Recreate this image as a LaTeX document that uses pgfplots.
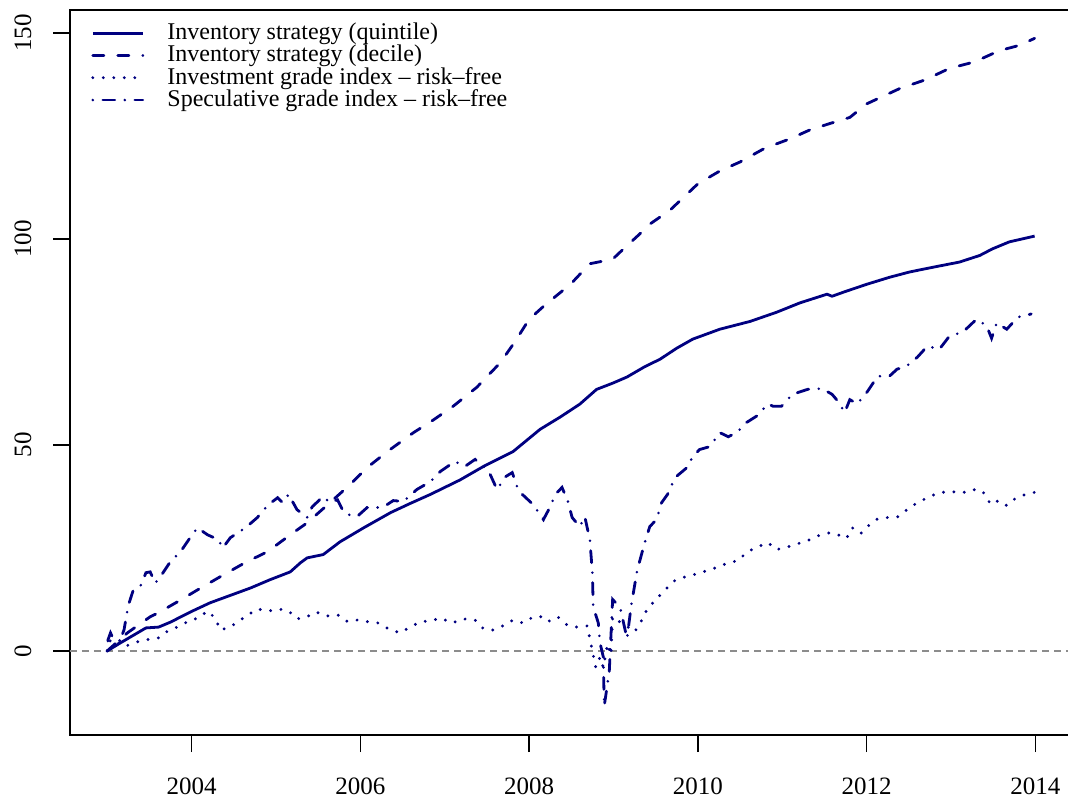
\documentclass[border=0pt]{standalone}
\usepackage{fontspec}
\setmainfont{Liberation Serif}
\usepackage{pgfplots}
\pgfplotsset{compat=1.18}
\definecolor{navy}{RGB}{0,0,128}
\begin{document}
\begin{tikzpicture}
\useasboundingbox (-70bp,-64bp) rectangle (998bp,735bp);
\begin{axis}[
 at={(0,0)}, anchor=south west,
 scale only axis, width=1002.6bp, height=725bp,
 xmin=2002.56, xmax=2014.44, ymin=-20.39, ymax=155.58,
 xtick={2004,2006,2008,2010,2012,2014},
 xticklabels={2004,2006,2008,2010,2012,2014},
 ytick={0,50,100,150},
 tick align=outside, xtick pos=bottom, ytick pos=left,
 major tick length=17bp,
 tick style={black, line width=1.3bp},
 axis line style={line width=1.5bp},
 ticklabel style={font=\fontsize{25bp}{30bp}\selectfont, inner sep=0pt},
 /pgf/number format/assume math mode=true,
 xticklabel style={anchor=center, yshift=-34bp},
 yticklabel style={xshift=-30bp, rotate=90, anchor=center},
 legend style={draw=none, fill=none, at={(0.021,1)}, anchor=north west,
   yshift=-13.3bp, inner sep=0pt, row sep=0pt, column sep=0pt,
   font=\fontsize{24bp}{22bp}\selectfont,
   nodes={inner sep=0pt, text height=16bp, text depth=6.3bp}},
 legend cell align=left,
 legend image code/.code={\draw[#1] (0bp,1.5bp) -- (50bp,1.5bp); \path (73bp,1.5bp);},
]
\addplot[black!45, line width=1.3bp, dash pattern=on 7bp off 5bp, forget plot] coordinates {(2002.56,0) (2014.44,0)};

\addplot[navy, line width=2.8bp, line join=round] table {
x y
2003.00 0
2003.16 2
2003.46 5.6
2003.61 5.8
2003.75 7
2003.99 9.5
2004.22 11.7
2004.46 13.5
2004.70 15.3
2004.93 17.3
2005.17 19.2
2005.29 21.4
2005.37 22.6
2005.56 23.4
2005.76 26.5
2006.04 29.9
2006.36 33.6
2006.59 35.8
2006.83 38
2007.18 41.5
2007.46 44.8
2007.81 48.4
2008.13 53.8
2008.37 56.8
2008.60 59.9
2008.80 63.5
2008.99 65
2009.16 66.5
2009.37 69
2009.55 70.8
2009.75 73.5
2009.94 75.7
2010.26 78.1
2010.62 80
2010.93 82.2
2011.21 84.5
2011.53 86.6
2011.59 86.1
2011.74 87.2
2012.00 89
2012.27 90.7
2012.51 92
2012.80 93.2
2013.10 94.4
2013.34 96
2013.49 97.6
2013.69 99.3
2013.99 100.7
};
\addlegendentry{Inventory strategy (quintile)}

\addplot[navy, line width=2.8bp, line cap=round, dash pattern=on 11bp off 14bp] table {
x y
2003.00 0
2003.24 4.4
2003.51 8.3
2003.60 9.2
2003.83 11.9
2004.11 15.3
2004.38 18.5
2004.64 21.5
2004.90 24.1
2005.17 28.2
2005.37 31.1
2005.64 36
2005.88 40.4
2006.08 44.5
2006.32 48.4
2006.63 53
2006.86 56
2007.10 59.4
2007.38 64
2007.66 70
2007.83 75
2008.00 80.5
2008.19 84
2008.49 89
2008.72 94
2008.99 95.1
2009.14 98
2009.31 101.2
2009.43 103.6
2009.67 107
2010.00 113.4
2010.26 116.5
2010.50 118.7
2010.79 122
2011.09 124.3
2011.33 126.5
2011.56 128
2011.80 129.5
2012.00 132.8
2012.39 136.5
2012.69 138.6
2012.98 141.4
2013.28 143
2013.57 145.7
2013.81 147
2013.99 148.7
};
\addlegendentry{Inventory strategy (decile)}

\addplot[navy, line width=3.2bp, line cap=round, dash pattern=on 0bp off 10.5bp] table {
x y
2003.00 0
2003.04 2.7
2003.14 2.7
2003.22 1.2
2003.40 2.5
2003.61 3.2
2003.72 4.9
2003.81 5.6
2003.99 7.5
2004.08 8
2004.19 9.7
2004.28 8
2004.34 5.1
2004.46 5.8
2004.56 7.3
2004.78 10.2
2004.91 9.7
2005.03 10.2
2005.15 9.7
2005.25 7.8
2005.37 8.3
2005.47 9.5
2005.61 8.5
2005.73 8.8
2005.85 7.1
2005.96 7.5
2006.09 7.1
2006.21 6.8
2006.33 5.4
2006.47 4.4
2006.59 5.8
2006.71 7.1
2006.83 7.3
2006.95 8
2007.09 6.8
2007.22 7.8
2007.36 7.5
2007.46 5.4
2007.57 5.1
2007.69 6.1
2007.81 7.5
2007.93 6.8
2008.05 8.3
2008.15 8.3
2008.22 7.1
2008.34 8.3
2008.45 6.3
2008.57 5.8
2008.69 6.1
2008.72 3
2008.76 -1
2008.79 -4
2008.84 -1.5
2008.88 -4
2008.93 1.7
2008.97 -1
2008.99 8.3
2009.04 7.5
2009.14 6.3
2009.25 4.6
2009.33 7.3
2009.40 10.2
2009.50 12.4
2009.61 14.8
2009.72 17
2009.85 18
2009.98 18.7
2010.11 19.5
2010.24 20.4
2010.36 21.4
2010.47 21.9
2010.59 24.1
2010.71 25.3
2010.83 26.3
2010.93 24.6
2011.07 25.3
2011.18 26
2011.30 26.8
2011.43 28
2011.56 28.7
2011.66 28.2
2011.76 27.3
2011.83 29.9
2011.93 28.5
2012.02 30.4
2012.13 32.1
2012.25 32.4
2012.37 32.6
2012.49 34.5
2012.60 36
2012.72 37.2
2012.85 38.4
2012.99 38.7
2013.14 38.4
2013.25 39.2
2013.37 38.9
2013.44 36.5
2013.48 35.5
2013.56 36.5
2013.66 35.3
2013.76 37
2013.88 38
2013.99 38.5
};
\addlegendentry{Investment grade index -- risk--free}

\addplot[navy, line width=2.8bp, line cap=round, dash pattern=on 0bp off 10bp on 12bp off 10bp] table {
x y
2003.00 0
2003.01 2.7
2003.04 4.4
2003.08 2.7
2003.14 2
2003.20 5.1
2003.25 11
2003.31 14.8
2003.40 16
2003.46 19
2003.51 19.2
2003.57 16.5
2003.63 18
2003.75 21.7
2003.87 24.1
2003.99 27.7
2004.07 29.9
2004.19 28.2
2004.32 27
2004.37 25
2004.46 27.5
2004.64 29.9
2004.78 32.4
2004.91 35.5
2005.02 37.2
2005.08 36
2005.15 38
2005.25 34.3
2005.37 32.4
2005.43 35
2005.56 37.5
2005.64 36
2005.73 36.7
2005.80 33.8
2005.86 33.1
2005.96 32.6
2006.08 34.8
2006.20 34.8
2006.30 35.3
2006.39 36.5
2006.51 36.3
2006.67 39.2
2006.83 41.1
2006.95 43.6
2007.12 46
2007.24 44.8
2007.36 46.5
2007.46 44.8
2007.54 42.8
2007.62 39.2
2007.72 42.3
2007.80 43.3
2007.87 39.2
2007.92 38
2008.05 35.5
2008.17 31.9
2008.25 35
2008.31 38
2008.39 39.7
2008.46 36.3
2008.51 32.4
2008.60 30.2
2008.66 32.6
2008.72 27
2008.75 19
2008.76 10.7
2008.82 6.8
2008.84 2
2008.88 -1.5
2008.89 -13.4
2008.95 -5
2008.99 12.5
2009.08 10.5
2009.16 3
2009.21 11
2009.28 19.5
2009.37 26.3
2009.43 30.2
2009.51 31.9
2009.57 36
2009.64 38
2009.73 42.1
2009.87 44.5
2009.94 47.2
2010.02 48.9
2010.14 49.6
2010.26 53
2010.36 52
2010.46 53
2010.58 55.5
2010.71 57.2
2010.83 60
2010.89 59.4
2010.99 59.4
2011.12 62.3
2011.30 63.5
2011.47 63.7
2011.59 62.3
2011.66 60.6
2011.74 57.9
2011.80 61
2011.89 60
2012.01 63
2012.13 66.7
2012.27 66.7
2012.36 68.4
2012.47 69.1
2012.60 71.3
2012.72 74
2012.86 73.2
2012.98 76.4
2013.14 77.4
2013.30 80.5
2013.42 79
2013.48 75.9
2013.54 79.6
2013.66 78.1
2013.79 81
2013.95 81.8
};
\addlegendentry{Speculative grade index -- risk--free}
\end{axis}
\end{tikzpicture}
\end{document}
